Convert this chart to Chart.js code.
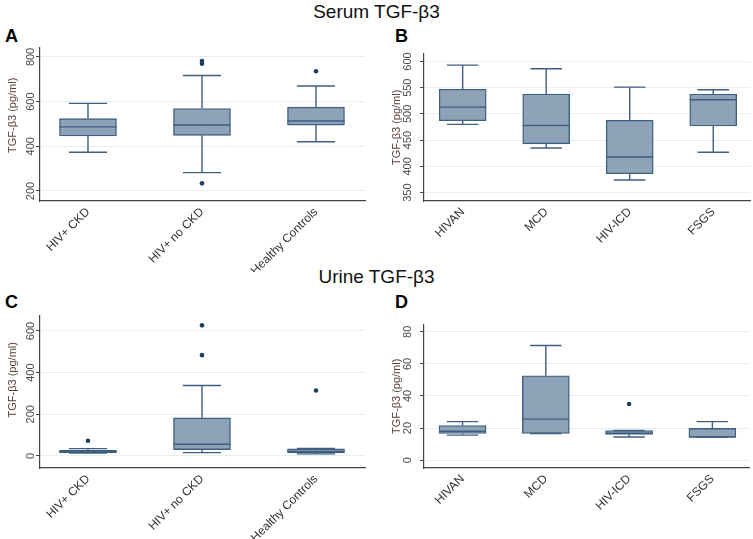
<!DOCTYPE html>
<html>
<head>
<meta charset="utf-8">
<script src="https://cdn.jsdelivr.net/npm/chart.js@4.4.1/dist/chart.umd.min.js"></script>
<style>
  body { margin: 0; background: #fff; font-family: "Liberation Sans", Arial, sans-serif; }
  #page { position: relative; width: 753px; height: 539px; overflow: hidden; background: #fff; }
  .head { position: absolute; left: 0; width: 753px; text-align: center; font-size: 19px; line-height: 19px; color: #111; }
  .tag { position: absolute; font-weight: bold; font-size: 18px; line-height: 18px; color: #000; }
  .panel { position: absolute; }
</style>
</head>
<body>
<div id="page">
  <div class="head" style="top:2px">Serum TGF-β3</div>
  <div class="head" style="top:267px">Urine TGF-β3</div>
  <div class="tag" style="left:5px;top:27px">A</div>
  <div class="tag" style="left:395px;top:27px">B</div>
  <div class="tag" style="left:5px;top:293px">C</div>
  <div class="tag" style="left:395px;top:293px">D</div>
  <div class="panel" style="left:0;top:44px"><canvas id="chartA" width="376" height="228"></canvas></div>
  <div class="panel" style="left:384px;top:44px"><canvas id="chartB" width="369" height="228"></canvas></div>
  <div class="panel" style="left:0;top:312px"><canvas id="chartC" width="376" height="227"></canvas></div>
  <div class="panel" style="left:384px;top:312px"><canvas id="chartD" width="369" height="227"></canvas></div>
</div>
<script>
// groups
var statusGroups = ['HIV+ CKD', 'HIV+ no CKD', 'Healthy Controls'];
var biopsyGroups = ['HIVAN', 'MCD', 'HIV-ICD', 'FSGS'];

// A - serum, by HIV/CKD status (pg/ml)
var serumStatusLow = [373, 282, 420];
var serumStatusQ1 = [446, 449, 495];
var serumStatusMedian = [487, 495, 513];
var serumStatusQ3 = [524, 569, 575];
var serumStatusHigh = [592, 717, 670];
var serumStatusOutliers = [[], [782, 770, 234], [736]];

// B - serum, by biopsy diagnosis
var serumBiopsyLow = [480, 435, 374, 427];
var serumBiopsyQ1 = [487, 443, 386, 477];
var serumBiopsyMedian = [513, 478, 418, 527];
var serumBiopsyQ3 = [547, 538, 488, 538];
var serumBiopsyHigh = [593, 586, 551, 546];
var serumBiopsyOutliers = [[], [], [], []];

// C - urine, by HIV/CKD status
var urineStatusLow = [14, 16, 10];
var urineStatusQ1 = [16, 30, 15];
var urineStatusMedian = [21, 56, 22];
var urineStatusQ3 = [27, 183, 34];
var urineStatusHigh = [35, 338, 36];
var urineStatusOutliers = [[73], [627, 484], [314]];

// D - urine, by biopsy diagnosis
var urineBiopsyLow = [15.6, 16.6, 14.4, 14.2];
var urineBiopsyQ1 = [16.6, 16.6, 16, 14.2];
var urineBiopsyMedian = [18, 25.6, 16.8, 14.5];
var urineBiopsyQ3 = [21.6, 52.6, 18.5, 19.8];
var urineBiopsyHigh = [24, 71.5, 18.5, 24];
var urineBiopsyOutliers = [[], [], [35], []];

Chart.defaults.font.family = '"Liberation Sans", Arial, sans-serif';
Chart.defaults.animation = false;

var boxFill = '#8fa3b8';
var boxLine = '#3f5f80';
var dotColor = '#1f3d63';
var axisColor = '#444';

// whiskers + median line, drawn on the library's scales
function whiskers(low, q1, med, q3, high) {
  return {
    id: 'whiskers',
    afterDatasetsDraw: function(chart) {
      var ctx = chart.ctx, y = chart.scales.y;
      var bars = chart.getDatasetMeta(0).data;
      ctx.save();
      ctx.strokeStyle = boxLine;
      ctx.lineWidth = 1.4;
      bars.forEach(function(bar, i) {
        var cx = bar.x, half = bar.width / 2, cap = half * 0.67;
        var yLo = y.getPixelForValue(low[i]), yHi = y.getPixelForValue(high[i]);
        var yQ1 = y.getPixelForValue(q1[i]), yQ3 = y.getPixelForValue(q3[i]);
        var yMed = y.getPixelForValue(med[i]);
        ctx.beginPath();
        ctx.moveTo(cx, yQ3); ctx.lineTo(cx, yHi);
        ctx.moveTo(cx - cap, yHi); ctx.lineTo(cx + cap, yHi);
        ctx.moveTo(cx, yQ1); ctx.lineTo(cx, yLo);
        ctx.moveTo(cx - cap, yLo); ctx.lineTo(cx + cap, yLo);
        ctx.moveTo(cx - half, yMed); ctx.lineTo(cx + half, yMed);
        ctx.stroke();
      });
      ctx.restore();
    }
  };
}

function boxChart(id, groups, low, q1, med, q3, high, outliers, o) {
  var boxes = groups.map(function(g, i) { return { x: i + 1, y: [q1[i], q3[i]] }; });
  var dots = [];
  outliers.forEach(function(list, i) {
    list.forEach(function(v) { dots.push({ x: i + 1, y: v }); });
  });

  return new Chart(document.getElementById(id), {
    type: 'bar',
    data: {
      datasets: [{
        type: 'bar',
        data: boxes,
        backgroundColor: boxFill,
        borderColor: boxLine,
        borderWidth: 1.4,
        borderSkipped: false,
        barThickness: o.boxWidth
      }, {
        type: 'scatter',
        data: dots,
        pointRadius: 2.3,
        pointBackgroundColor: dotColor,
        pointBorderWidth: 0
      }]
    },
    options: {
      responsive: false,
      devicePixelRatio: 1,
      layout: { padding: { top: o.top, right: o.right, left: 0, bottom: 0 } },
      plugins: { legend: { display: false }, tooltip: { enabled: false } },
      scales: {
        x: {
          type: 'linear',
          offset: false,
          min: o.xMin, max: o.xMax,
          afterFit: function(s) { s.height = o.xAxisHeight; },
          grid: { display: false, drawTicks: false },
          border: { display: true, color: axisColor, width: 1.2 },
          ticks: {
            stepSize: 1, includeBounds: false, autoSkip: false,
            minRotation: 45, maxRotation: 45, padding: 4,
            color: '#333', font: { size: 12 },
            callback: function(v) { return groups[v - 1]; }
          }
        },
        y: {
          min: o.yMin, max: o.yMax,
          afterFit: function(s) { s.width = 40; },
          grid: { color: '#e6eff1', tickColor: axisColor, tickLength: 4 },
          border: { display: true, color: axisColor, width: 1.2 },
          title: {
            display: true, text: o.title, color: '#5a3d3d',
            font: { size: 11 }, padding: { top: 6, bottom: 0 }
          },
          ticks: {
            stepSize: o.yStep, includeBounds: false,
            minRotation: 90, maxRotation: 90, crossAlign: 'center',
            padding: o.tickPad, color: '#4a4a4a', font: { size: 11 }
          }
        }
      }
    },
    plugins: [whiskers(low, q1, med, q3, high)]
  });
}

var yTitle = 'TGF-β3 (pg/ml)';

boxChart('chartA', statusGroups, serumStatusLow, serumStatusQ1, serumStatusMedian, serumStatusQ3, serumStatusHigh, serumStatusOutliers,
  { top: 4, right: 11, xAxisHeight: 71, xMin: 0.579, xMax: 3.43, yMin: 155, yMax: 840, yStep: 200, boxWidth: 57, tickPad: -4, title: '      ' + yTitle });

boxChart('chartB', biopsyGroups, serumBiopsyLow, serumBiopsyQ1, serumBiopsyMedian, serumBiopsyQ3, serumBiopsyHigh, serumBiopsyOutliers,
  { top: 5, right: 3, xAxisHeight: 71, xMin: 0.537, xMax: 4.44, yMin: 334, yMax: 615, yStep: 50, boxWidth: 47, tickPad: 3, title: yTitle });

boxChart('chartC', statusGroups, urineStatusLow, urineStatusQ1, urineStatusMedian, urineStatusQ3, urineStatusHigh, urineStatusOutliers,
  { top: 4, right: 11, xAxisHeight: 71, xMin: 0.579, xMax: 3.43, yMin: -58, yMax: 672, yStep: 200, boxWidth: 57, tickPad: -4, title: '        ' + yTitle });

boxChart('chartD', biopsyGroups, urineBiopsyLow, urineBiopsyQ1, urineBiopsyMedian, urineBiopsyQ3, urineBiopsyHigh, urineBiopsyOutliers,
  { top: 5, right: 3, xAxisHeight: 71, xMin: 0.537, xMax: 4.44, yMin: -4.9, yMax: 84.5, yStep: 20, boxWidth: 47, tickPad: 6, title: yTitle });
</script>
</body>
</html>
